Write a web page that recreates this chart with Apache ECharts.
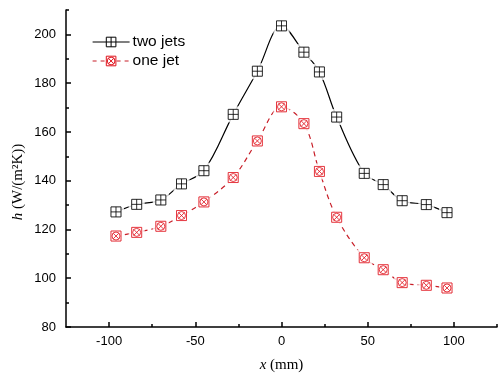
<!DOCTYPE html>
<html>
<head>
<meta charset="utf-8">
<script src="https://cdn.jsdelivr.net/npm/echarts@6/dist/echarts.min.js"></script>
<style>
  html, body { margin: 0; padding: 0; background: #fff; }
  #chart { width: 499px; height: 379px; }
</style>
</head>
<body>
<div id="chart"></div>
<script>
// 資料
const xPos = [-96, -84, -70, -58, -45, -28, -14, 0, 13, 22, 32, 48, 59, 70, 84, 96];
const twoJets = [127.2, 130.3, 132.1, 138.7, 144.1, 167.2, 184.9, 203.5, 192.7, 184.6, 166.1, 143, 138.4, 131.8, 130.2, 126.9];
const oneJet = [117.3, 118.8, 121.3, 125.7, 131.3, 141.3, 156.3, 170.3, 163.4, 143.8, 125, 108.4, 103.5, 98.2, 97.1, 96];
const xTicks = [-100, -50, 0, 50, 100];
const xMinorTicks = [-75, -25, 25, 75, 125];
const yTicks = [80, 100, 120, 140, 160, 180, 200];
const yMinorTicks = [90, 110, 130, 150, 170, 190, 210];

const pairs = ys => xPos.map((x, i) => [x, ys[i]]);

// 符號
const plusSquare = 'path://M0 0L10 0L10 10L0 10Z M5 0L5 10 M0 5L10 5';
const crossCircle = 'path://M0 0L10 0L10 10L0 10Z M1 5A4 4 0 1 1 9 5A4 4 0 1 1 1 5Z M2.2 2.2L7.8 7.8 M7.8 2.2L2.2 7.8';

const RED = '#e0101a';
const LINE_RED = '#c81e28';
const font = "'Liberation Sans', Arial, sans-serif";
const serif = "'Liberation Serif', 'Times New Roman', serif";

const chart = echarts.init(document.getElementById('chart'));

const baseX = {
  type: 'value', min: -125, max: 125, position: 'bottom',
  splitLine: { show: false }
};
const baseY = {
  type: 'value', min: 80, max: 210, position: 'left',
  splitLine: { show: false }
};

chart.setOption({
  animation: false,
  backgroundColor: '#fff',
  grid: { left: 66, right: 2, top: 10, bottom: 52 },
  legend: {
    data: [
      { name: 'two jets', itemStyle: { color: '#fff', borderColor: '#000', borderWidth: 1 }, lineStyle: { color: '#000', width: 1.2 } },
      { name: 'one jet', itemStyle: { color: '#fff', borderColor: RED, borderWidth: 1 }, lineStyle: { color: LINE_RED, width: 1.2, type: [4, 4] } }
    ],
    orient: 'vertical',
    left: 92, top: 34, padding: 0,
    itemWidth: 37, itemHeight: 12, itemGap: 3,
    textStyle: { fontFamily: font, fontSize: 15.5, color: '#000', padding: [0, 0, 0, -2] }
  },
  xAxis: [
    Object.assign({}, baseX, {
      axisLine: { onZero: false, lineStyle: { color: '#000', width: 1.5 } },
      axisTick: { inside: true, length: 5, customValues: xTicks, lineStyle: { color: '#000', width: 1.5 } },
      axisLabel: { customValues: xTicks, margin: 8, fontFamily: font, fontSize: 13, color: '#000' },
      name: '{i|x} (mm)',
      nameLocation: 'middle',
      nameGap: 31,
      nameTextStyle: { fontFamily: serif, fontSize: 15, color: '#000', rich: { i: { fontFamily: serif, fontSize: 15, fontStyle: 'italic' } } }
    }),
    Object.assign({}, baseX, {
      axisLine: { show: false, onZero: false },
      axisTick: { inside: true, length: 3, customValues: xMinorTicks, lineStyle: { color: '#000', width: 1.5 } },
      axisLabel: { show: false }
    })
  ],
  yAxis: [
    Object.assign({}, baseY, {
      axisLine: { show: true, onZero: false, lineStyle: { color: '#000', width: 1.5 } },
      axisTick: { show: true, inside: true, length: 5, customValues: yTicks, lineStyle: { color: '#000', width: 1.5 } },
      axisLabel: { customValues: yTicks, margin: 10, fontFamily: font, fontSize: 13, color: '#000' }
    }),
    Object.assign({}, baseY, {
      axisLine: { show: false, onZero: false },
      axisTick: { show: true, inside: true, length: 3, customValues: yMinorTicks, lineStyle: { color: '#000', width: 1.5 } },
      axisLabel: { show: false }
    })
  ],
  graphic: [{
    type: 'text',
    x: 18, y: 182,
    rotation: Math.PI / 2,
    style: {
      text: '{i|h} (W/(m²K))',
      font: '15px ' + serif,
      fill: '#000',
      align: 'center',
      verticalAlign: 'middle',
      rich: { i: { fontFamily: serif, fontSize: 15, fontStyle: 'italic' } }
    }
  }],
  series: [
    {
      name: 'two jets', type: 'line', data: pairs(twoJets), smooth: 0.35,
      symbol: plusSquare, symbolSize: 10, z: 2,
      lineStyle: { color: '#000', width: 1.2 },
      itemStyle: { color: '#fff', borderColor: '#000', borderWidth: 1 }
    },
    {
      name: 'one jet', type: 'line', data: pairs(oneJet), smooth: 0.35,
      symbol: crossCircle, symbolSize: 10, z: 2,
      lineStyle: { color: LINE_RED, width: 1.2, type: [5, 4] },
      itemStyle: { color: '#fff', borderColor: RED, borderWidth: 1 }
    },
    // 標記周圍留白
    { name: 'gap-a', type: 'scatter', data: pairs(twoJets), symbol: 'rect', symbolSize: 16, z: 3, silent: true, itemStyle: { color: '#fff' } },
    { name: 'gap-b', type: 'scatter', data: pairs(oneJet), symbol: 'rect', symbolSize: 16, z: 3, silent: true, itemStyle: { color: '#fff' } },
    {
      name: 'mark-a', type: 'scatter', data: pairs(twoJets), symbol: plusSquare, symbolSize: 10, z: 4,
      itemStyle: { color: '#fff', borderColor: '#000', borderWidth: 1 }
    },
    {
      name: 'mark-b', type: 'scatter', data: pairs(oneJet), symbol: crossCircle, symbolSize: 10, z: 4,
      itemStyle: { color: '#fff', borderColor: RED, borderWidth: 1 }
    }
  ]
});
</script>
</body>
</html>
